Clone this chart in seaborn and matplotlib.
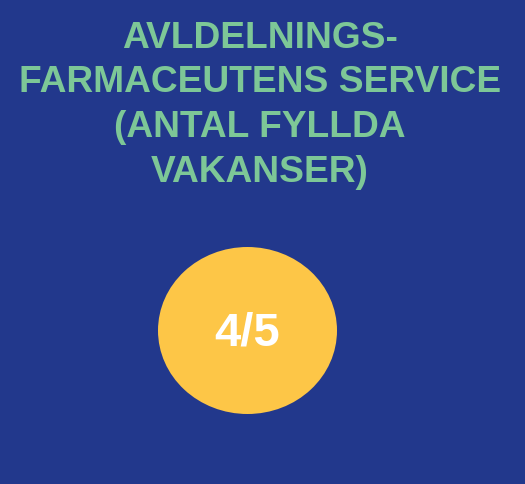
import matplotlib.pyplot as plt
import seaborn as sns
from matplotlib.patches import Ellipse

# --- Data ---
title_lines = ["AVLDELNINGS-", "FARMACEUTENS SERVICE", "(ANTAL FYLLDA", "VAKANSER)"]
filled = 4
total = 5

# --- Style ---
sns.set_theme(style="white")
plt.rcParams['font.family'] = ['Liberation Sans', 'DejaVu Sans']

bg = "#22388c"
green = "#7dc797"
yellow = "#fdc647"

fig = plt.figure(figsize=(5.25, 4.84), dpi=100)
fig.patch.set_facecolor(bg)
ax = fig.add_axes([0, 0, 1, 1])
ax.set_facecolor(bg)
ax.set_xlim(0, 525)
ax.set_ylim(484, 0)
ax.axis("off")

# title, one line at a time
for i, line in enumerate(title_lines):
    ax.text(260, 38 + i * 44.7, line, ha="center", va="center",
            fontsize=26.7, fontweight="bold", color=green)

# circle with the count
ax.add_patch(Ellipse((247.5, 330.5), 179, 167, facecolor=yellow, edgecolor="none"))
ax.text(247.5, 333, f"{filled}/{total}", ha="center", va="center",
        fontsize=34, fontweight="bold", color="white")

fig.savefig("out.png", dpi=100, facecolor=bg)
